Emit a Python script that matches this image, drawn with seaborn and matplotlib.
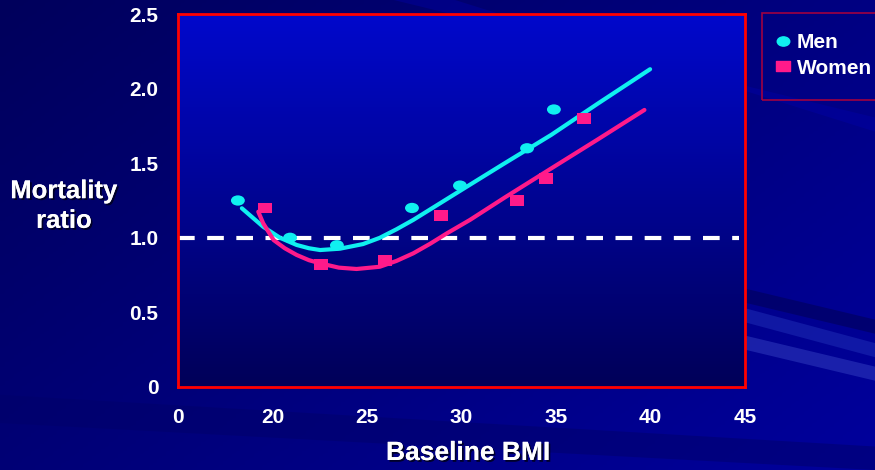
import numpy as np
import pandas as pd
import matplotlib
matplotlib.use('Agg')
import matplotlib.pyplot as plt
import matplotlib.patheffects as pe
from matplotlib.path import Path
from matplotlib.patches import Rectangle, Polygon
from matplotlib.lines import Line2D
import seaborn as sns

# observed points
men_bmi = [18.17, 20.93, 23.41, 27.38, 29.92, 33.47, 34.89]
men_ratio = [1.25, 1.00, 0.95, 1.20, 1.35, 1.60, 1.86]
women_bmi = [19.6, 22.57, 25.95, 28.92, 32.94, 34.47, 36.48]
women_ratio = [1.20, 0.82, 0.85, 1.15, 1.25, 1.40, 1.80]

# fitted curves
men_curve_bmi = [18.38, 19.51, 20.40, 21.28, 21.93, 22.52, 23.57, 24.79, 25.68, 26.56, 27.45, 28.34,
                 29.23, 30.31, 32.29, 34.75, 37.22, 39.98]
men_curve_ratio = [1.198, 1.074, 1.0, 0.952, 0.93, 0.918, 0.927, 0.958, 1.0, 1.057, 1.12, 1.19,
                   1.26, 1.345, 1.50, 1.69, 1.90, 2.13]
women_curve_bmi = [19.25, 19.51, 20.06, 20.65, 21.28, 21.93, 22.52, 23.51, 24.45, 25.68, 26.56, 27.45,
                   28.34, 29.23, 30.45, 32.29, 34.75, 37.22, 39.68]
women_curve_ratio = [1.175, 1.097, 0.985, 0.93, 0.885, 0.85, 0.829, 0.80, 0.791, 0.806, 0.845, 0.896,
                     0.96, 1.03, 1.12, 1.27, 1.465, 1.66, 1.857]

xtick_pos = [15, 20, 25, 30, 35, 40, 45]
xtick_labels = ['0', '20', '25', '30', '35', '40', '45']
ytick_pos = [0, 0.5, 1.0, 1.5, 2.0, 2.5]
ytick_labels = ['0', '0.5', '1.0', '1.5', '2.0', '2.5']

CYAN = '#10f0f0'
PINK = '#ff1a8a'

sns.set_theme(style='white')
plt.rcParams['font.family'] = ['Liberation Sans', 'DejaVu Sans']
plt.rcParams['font.weight'] = 'bold'

fig = plt.figure(figsize=(8.75, 4.7), dpi=100)

# slide background
bg = fig.add_axes([0, 0, 1, 1], zorder=-10)
bg.set_axis_off()
gx, gy = np.meshgrid(np.linspace(0, 1, 200), np.linspace(0, 1, 200))
grad = np.clip(0.6 * gx + 0.4 * gy, 0, 1)
bg.imshow(grad, extent=[0, 1, 0, 1], origin='upper', aspect='auto',
          cmap=matplotlib.colors.LinearSegmentedColormap.from_list('bg', ['#00005c', '#00009c']))
for pts, c, a in [([(0.0, 0.16), (1.0, 0.05), (1.0, 0.0), (0.0, 0.10)], '#00006a', 0.5),
                  ([(0.82, 0.40), (1.0, 0.32), (1.0, 0.29), (0.82, 0.37)], '#00005a', 0.6),
                  ([(0.82, 0.36), (1.0, 0.27), (1.0, 0.24), (0.82, 0.33)], '#2030b8', 0.5),
                  ([(0.82, 0.30), (1.0, 0.22), (1.0, 0.19), (0.82, 0.27)], '#3a48c8', 0.45),
                  ([(0.45, 1.0), (1.0, 0.75), (1.0, 0.72), (0.52, 1.0)], '#0000b0', 0.35)]:
    bg.add_patch(Polygon(pts, closed=True, color=c, alpha=a, lw=0))
bg.set_xlim(0, 1)
bg.set_ylim(0, 1)

ax = fig.add_axes([0.2034, 0.1766, 0.6480, 0.7936])
ax.set_xlim(15, 45)
ax.set_ylim(0, 2.5)

# plot area gradient
ax.imshow(np.linspace(0, 1, 256).reshape(-1, 1), extent=[15, 45, 0, 2.5], origin='upper',
          aspect='auto', zorder=0,
          cmap=matplotlib.colors.LinearSegmentedColormap.from_list('pa', ['#0008cc', '#000058']))

pts = pd.DataFrame({
    'bmi': men_bmi + women_bmi,
    'ratio': men_ratio + women_ratio,
    'sex': ['Men'] * len(men_bmi) + ['Women'] * len(women_bmi),
})
curves = pd.DataFrame({
    'bmi': men_curve_bmi + women_curve_bmi,
    'ratio': men_curve_ratio + women_curve_ratio,
    'sex': ['Men'] * len(men_curve_bmi) + ['Women'] * len(women_curve_bmi),
})

circ = Path.unit_circle()
ellipse = Path(circ.vertices * np.array([1.0, 0.74]), circ.codes)
rect = Path([(-1, -0.78), (1, -0.78), (1, 0.78), (-1, 0.78), (-1, -0.78)],
            [Path.MOVETO, Path.LINETO, Path.LINETO, Path.LINETO, Path.CLOSEPOLY])

ax.axhline(1.0, xmin=0, xmax=0.99, color='white', lw=3, dashes=(4, 3), zorder=2)
sns.lineplot(data=curves, x='bmi', y='ratio', hue='sex', palette={'Men': CYAN, 'Women': PINK},
             sort=False, estimator=None, lw=3, legend=False, ax=ax, zorder=3)
sns.scatterplot(data=pts, x='bmi', y='ratio', hue='sex', style='sex',
                palette={'Men': CYAN, 'Women': PINK},
                markers={'Men': ellipse, 'Women': rect}, s=100, linewidth=0,
                legend=False, ax=ax, zorder=4)

ax.set_xticks(xtick_pos)
ax.set_xticklabels(xtick_labels)
ax.set_yticks(ytick_pos)
ax.set_yticklabels(ytick_labels)
ax.tick_params(axis='x', colors='white', direction='out', length=9, width=1.2, pad=6, labelsize=15)
ax.tick_params(axis='y', colors='white', direction='out', length=7, width=1.2, pad=7, labelsize=15)
for lab in ax.get_xticklabels() + ax.get_yticklabels():
    lab.set_fontweight('bold')
ax.set_xlabel('')
ax.set_ylabel('')
for sp in ax.spines.values():
    sp.set_visible(True)
    sp.set_color('#ff0000')
    sp.set_linewidth(2)
    sp.set_zorder(5)

shadow = [pe.withSimplePatchShadow(offset=(1.3, -1.3), shadow_rgbFace='#000020', alpha=0.9), pe.Normal()]
fig.text(468 / 875, 1 - 453 / 470, 'Baseline BMI', color='white', fontsize=19, fontweight='bold',
         ha='center', va='center', path_effects=shadow)
fig.text(64 / 875, 1 - 206 / 470, 'Mortality\nratio', color='white', fontsize=18.5, fontweight='bold',
         ha='center', va='center', linespacing=1.3, path_effects=shadow)

# legend box
fig.patches.append(Rectangle((762 / 875, 1 - 100 / 470), 0.2, 87 / 470, transform=fig.transFigure,
                             facecolor='none', edgecolor='#a00040', lw=1.2))
handles = [Line2D([], [], ls='', marker=ellipse, color=CYAN, markersize=9),
           Line2D([], [], ls='', marker=rect, color=PINK, markersize=10)]
leg = fig.legend(handles, ['Men', 'Women'], loc='upper left', bbox_to_anchor=(774 / 875, 1 - 33 / 470),
                 frameon=False, handletextpad=0.2, handlelength=0.9, labelspacing=0.32,
                 borderpad=0, borderaxespad=0, prop={'weight': 'bold', 'size': 15})
for t in leg.get_texts():
    t.set_color('white')

fig.savefig('out.png', dpi=100, facecolor='#00008a')
